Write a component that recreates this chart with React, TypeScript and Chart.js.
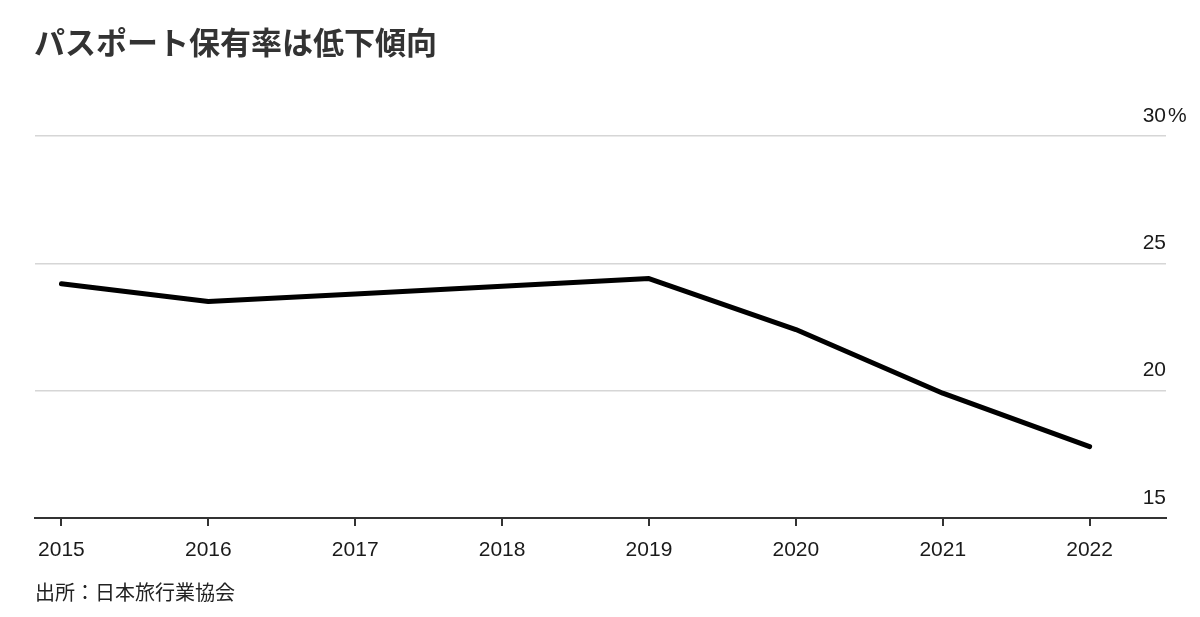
import { useEffect, useRef } from "react";
import { Chart, registerables } from "chart.js";

Chart.register(...registerables);

const chartTitle = "パスポート保有率は低下傾向";
const sourceNote = "出所：日本旅行業協会";
const years = [2015, 2016, 2017, 2018, 2019, 2020, 2021, 2022];
const passportRate = [24.2, 23.5, 23.8, 24.1, 24.4, 22.4, 19.9, 17.8];
const yTickValues = [15, 20, 25, 30];
const yUnit = "%";
const xMin = 2014.82;
const xMax = 2022.52;

const numFont = { family: '"Liberation Sans", Arial, Helvetica, sans-serif', size: 21 };

export default function App() {
  const ref = useRef<HTMLCanvasElement>(null);

  useEffect(() => {
    const canvas = ref.current;
    if (!canvas) return;
    const chart = new Chart(canvas, {
      type: "line",
      data: {
        datasets: [
          {
            data: years.map((x, i) => ({ x, y: passportRate[i] })),
            borderColor: "#000",
            borderWidth: 5,
            pointRadius: 0,
            tension: 0,
            borderCapStyle: "round",
            borderJoinStyle: "round",
            fill: false,
          },
        ],
      },
      options: {
        animation: false,
        responsive: false,
        maintainAspectRatio: false,
        devicePixelRatio: 1,
        layout: { padding: { left: 35, top: 136, right: 0, bottom: 49 } },
        plugins: {
          legend: { display: false },
          tooltip: { enabled: false },
          title: { display: false },
        },
        scales: {
          x: {
            type: "linear",
            min: xMin,
            max: xMax,
            afterBuildTicks: (s: any) => {
              s.ticks = years.map((v) => ({ value: v }));
            },
            afterFit: (s: any) => {
              s.height = 50;
            },
            grid: {
              drawOnChartArea: false,
              drawTicks: true,
              tickLength: 8,
              color: "#333",
              lineWidth: 2,
            },
            border: { display: true, color: "#333", width: 2 },
            ticks: {
              font: numFont,
              color: "#1a1a1a",
              padding: 12,
              maxRotation: 0,
              autoSkip: false,
              callback: (v: any) => String(v),
            },
          },
          y: {
            type: "linear",
            position: "right",
            min: 15,
            max: 30,
            weight: 0,
            afterBuildTicks: (s: any) => {
              s.ticks = yTickValues.map((v) => ({ value: v }));
            },
            afterFit: (s: any) => {
              s.width = 0;
            },
            grid: { drawTicks: false, color: "#d6d6d6", lineWidth: 1.5 },
            border: { display: false },
            ticks: {
              mirror: true,
              padding: 0,
              labelOffset: -20,
              font: numFont,
              color: "#1a1a1a",
              callback: (v: any) => String(v),
            },
          },
          y2: {
            type: "linear",
            position: "right",
            min: 15,
            max: 30,
            weight: 1,
            afterBuildTicks: (s: any) => {
              s.ticks = [{ value: yTickValues[yTickValues.length - 1] }];
            },
            afterFit: (s: any) => {
              s.width = 34;
            },
            grid: { display: false, drawTicks: false },
            border: { display: false },
            ticks: {
              padding: 2,
              labelOffset: -20,
              font: numFont,
              color: "#1a1a1a",
              callback: () => yUnit,
            },
          },
        },
      },
    } as any);
    return () => chart.destroy();
  }, []);

  return (
    <div
      style={{
        position: "absolute",
        left: 0,
        top: 0,
        width: 1200,
        height: 617,
        background: "#fff",
        overflow: "hidden",
      }}
    >
      <canvas ref={ref} width={1200} height={617} style={{ position: "absolute", left: 0, top: 0, width: 1200, height: 617 }} />
      <div
        style={{
          position: "absolute",
          left: 34,
          top: 25,
          fontFamily: '"Noto Sans CJK JP", "Noto Sans", sans-serif',
          fontWeight: 700,
          fontSize: 31,
          lineHeight: "31px",
          color: "#333",
          whiteSpace: "nowrap",
        }}
      >
        {chartTitle}
      </div>
      <div
        style={{
          position: "absolute",
          left: 35,
          top: 582,
          fontFamily: '"Noto Sans CJK JP", "Noto Sans", sans-serif',
          fontWeight: 400,
          fontSize: 20,
          lineHeight: "20px",
          color: "#222",
          whiteSpace: "nowrap",
        }}
      >
        {sourceNote}
      </div>
    </div>
  );
}
